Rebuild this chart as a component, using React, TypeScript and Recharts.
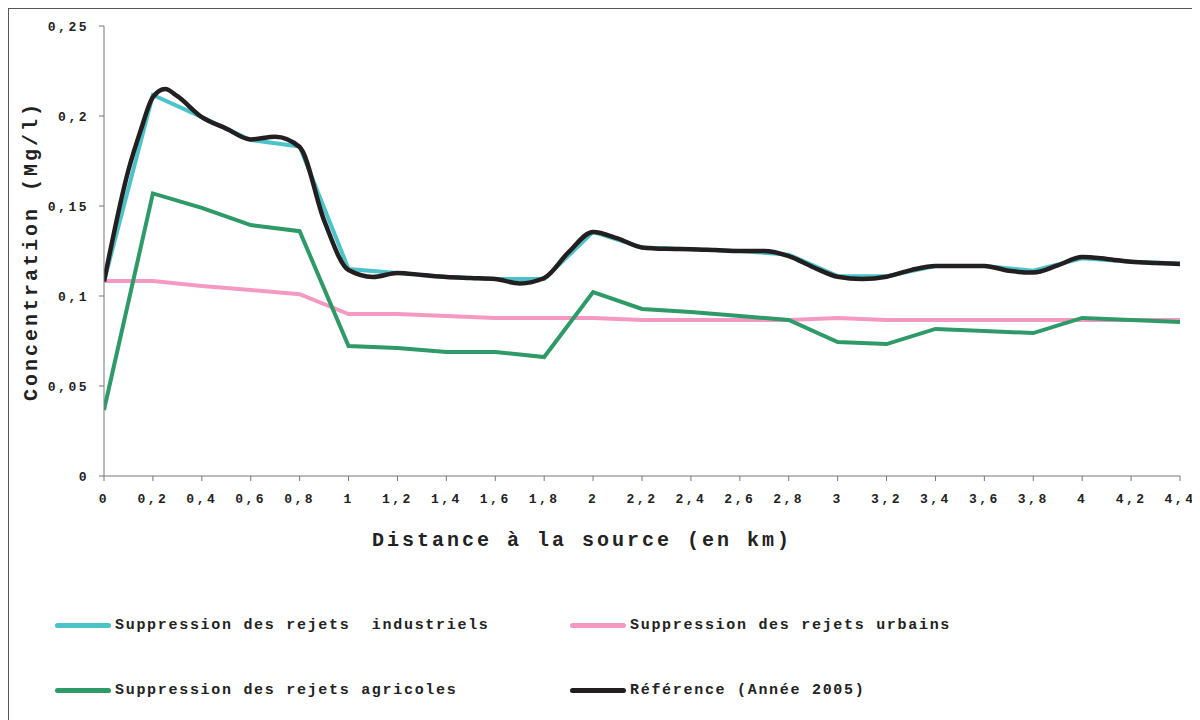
import { LineChart, Line, XAxis, YAxis } from "recharts";

const distances = [0, 0.2, 0.4, 0.6, 0.8, 1, 1.2, 1.4, 1.6, 1.8, 2, 2.2, 2.4, 2.6, 2.8, 3, 3.2, 3.4, 3.6, 3.8, 4, 4.2, 4.4];
const industriels = [0.108, 0.2117, 0.1994, 0.1867, 0.183, 0.115, 0.1128, 0.1106, 0.1094, 0.1094, 0.1356, 0.127, 0.126, 0.125, 0.123, 0.111, 0.111, 0.1167, 0.1167, 0.114, 0.121, 0.119, 0.118];
const urbains = [0.1083, 0.1083, 0.1056, 0.1033, 0.101, 0.09, 0.09, 0.0889, 0.0878, 0.0878, 0.0878, 0.0867, 0.0867, 0.0867, 0.0867, 0.0878, 0.0867, 0.0867, 0.0867, 0.0867, 0.0867, 0.0867, 0.0867];
const agricoles = [0.0367, 0.157, 0.149, 0.1394, 0.136, 0.0722, 0.0711, 0.0689, 0.0689, 0.0661, 0.1022, 0.0928, 0.0911, 0.0889, 0.0867, 0.0744, 0.0733, 0.0817, 0.0806, 0.0794, 0.0878, 0.0867, 0.0856];

const refDistances = [0, 0.1, 0.15, 0.2, 0.25, 0.3, 0.4, 0.5, 0.6, 0.7, 0.8, 0.9, 1, 1.1, 1.2, 1.3, 1.4, 1.5, 1.6, 1.7, 1.8, 1.9, 2, 2.1, 2.2, 2.3, 2.4, 2.5, 2.6, 2.7, 2.8, 2.9, 3, 3.1, 3.2, 3.3, 3.4, 3.5, 3.6, 3.7, 3.8, 3.9, 4, 4.1, 4.2, 4.3, 4.4];
const reference = [0.108, 0.17, 0.192, 0.2105, 0.215, 0.211, 0.1994, 0.193, 0.187, 0.1885, 0.1828, 0.142, 0.1144, 0.1106, 0.1128, 0.1117, 0.1106, 0.11, 0.1094, 0.107, 0.11, 0.1244, 0.1356, 0.132, 0.127, 0.1262, 0.126, 0.1255, 0.125, 0.125, 0.1222, 0.116, 0.1107, 0.1094, 0.1107, 0.1144, 0.1167, 0.1167, 0.1167, 0.114, 0.113, 0.117, 0.1217, 0.1206, 0.119, 0.1183, 0.1178];

const xTicks = [0, 0.2, 0.4, 0.6, 0.8, 1, 1.2, 1.4, 1.6, 1.8, 2, 2.2, 2.4, 2.6, 2.8, 3, 3.2, 3.4, 3.6, 3.8, 4, 4.2, 4.4];
const yTicks = [0, 0.05, 0.1, 0.15, 0.2, 0.25];

const series = [
  { name: "Suppression des rejets  industriels", values: industriels, color: "#4cc3c9" },
  { name: "Suppression des rejets urbains", values: urbains, color: "#f49ac2" },
  { name: "Suppression des rejets agricoles", values: agricoles, color: "#2e9a68" },
];

const refName = "Référence (Année 2005)";
const refColor = "#231f20";

const font = "'Liberation Mono', 'Courier New', monospace";
const comma = (v: number) => String(v).replace(".", ",");

const tickStyle = {
  fontFamily: font,
  fontSize: 13,
  fontWeight: "bold",
  fill: "#222",
  letterSpacing: 2.5,
};

export default function App() {
  const refData = refDistances.map((x, i) => ({ x, v: reference[i] }));

  const legendItems = [
    { ...series[0], left: 46, top: 608 },
    { ...series[1], left: 561, top: 608 },
    { ...series[2], left: 46, top: 673 },
    { name: refName, color: refColor, left: 561, top: 673 },
  ];

  return (
    <div
      style={{
        position: "relative",
        width: 1187,
        height: 712,
        borderTop: "1px solid #555",
        borderLeft: "1px solid #555",
        borderRight: "1px solid #555",
        background: "#fff",
      }}
    >
      <LineChart width={1186} height={712} margin={{ top: 17, right: 15, bottom: 0, left: 0 }}>
        <XAxis
          type="number"
          dataKey="x"
          domain={[0, 4.4]}
          ticks={xTicks}
          tickFormatter={comma}
          allowDataOverflow
          stroke="#777"
          tickSize={5}
          tickMargin={13}
          height={245}
          tick={tickStyle}
          label={{
            content: ({ viewBox }: any) => (
              <text
                x={viewBox.x + 478}
                y={viewBox.y + 70}
                textAnchor="middle"
                fontFamily={font}
                fontSize={20}
                fontWeight="bold"
                letterSpacing={3}
                fill="#222"
              >
                Distance à la source (en km)
              </text>
            ),
          }}
        />
        <YAxis
          type="number"
          domain={[0, 0.25]}
          ticks={yTicks}
          tickFormatter={comma}
          stroke="#777"
          tickSize={5}
          tickMargin={10}
          width={95}
          tick={tickStyle}
          label={{
            content: ({ viewBox }: any) => (
              <text
                x={28}
                y={viewBox.y + viewBox.height / 2}
                transform={`rotate(-90, 28, ${viewBox.y + viewBox.height / 2})`}
                textAnchor="middle"
                fontFamily={font}
                fontSize={20}
                fontWeight="bold"
                letterSpacing={3}
                fill="#222"
              >
                Concentration (Mg/l)
              </text>
            ),
          }}
        />
        {series.map((s) => (
          <Line
            key={s.name}
            data={distances.map((x, i) => ({ x, v: s.values[i] }))}
            dataKey="v"
            name={s.name}
            type="linear"
            stroke={s.color}
            strokeWidth={4}
            dot={false}
            isAnimationActive={false}
          />
        ))}
        <Line
          data={refData}
          dataKey="v"
          name={refName}
          type="monotone"
          stroke={refColor}
          strokeWidth={4.5}
          dot={false}
          isAnimationActive={false}
        />
      </LineChart>
      {legendItems.map((item) => (
        <div
          key={item.name}
          style={{
            position: "absolute",
            left: item.left,
            top: item.top,
            display: "flex",
            alignItems: "center",
            fontFamily: font,
            fontSize: 15,
            fontWeight: "bold",
            letterSpacing: 1.7,
            color: "#222",
            whiteSpace: "pre",
          }}
        >
          <span
            style={{
              display: "inline-block",
              width: 56,
              height: 5,
              borderRadius: 3,
              background: item.color,
              marginRight: 4,
            }}
          />
          {item.name}
        </div>
      ))}
    </div>
  );
}
